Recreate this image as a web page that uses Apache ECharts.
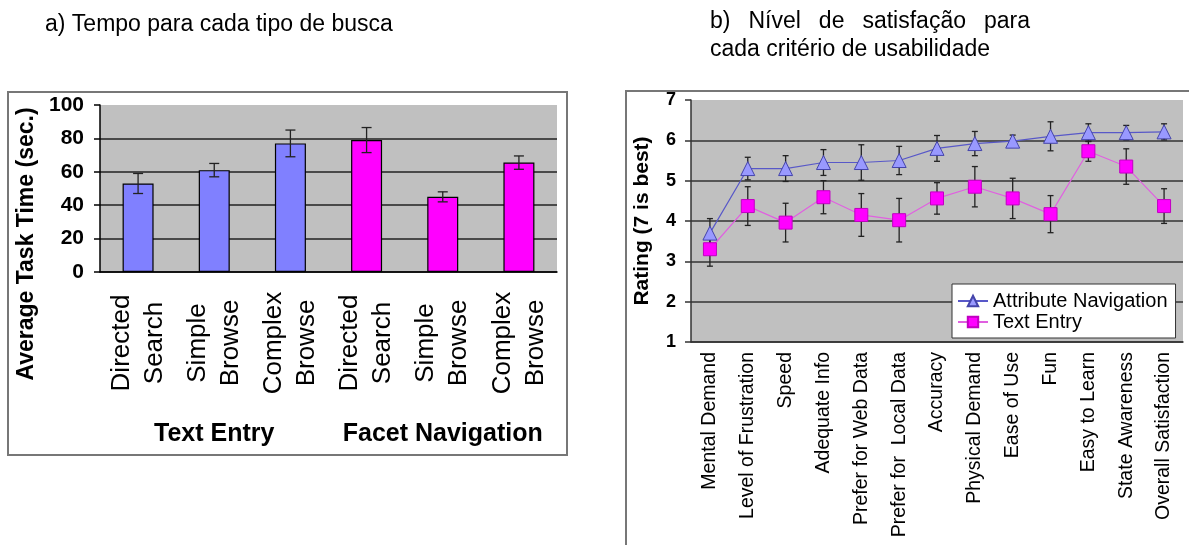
<!DOCTYPE html>
<html>
<head>
<meta charset="utf-8">
<script src="https://cdn.jsdelivr.net/npm/echarts@6/dist/echarts.min.js"></script>
<style>
  html, body { margin: 0; padding: 0; background: #fff; }
  #chart { width: 1189px; height: 545px; }
</style>
</head>
<body>
<div id="chart"></div>
<script>
// a) tempo por tipo de busca
var taskCategories = ['Directed\nSearch', 'Simple\nBrowse', 'Complex\nBrowse', 'Directed\nSearch', 'Simple\nBrowse', 'Complex\nBrowse']
var taskGroups = ['Text Entry', 'Facet Navigation']
var taskTimes = [53, 61, 77, 79, 45, 65.5]
var taskErrors = [6, 4, 8, 7.5, 3, 4]

// b) satisfação por critério
var criteria = ['Mental Demand', 'Level of Frustration', 'Speed', 'Adequate Info', 'Prefer for Web Data', 'Prefer for  Local Data', 'Accuracy', 'Physical Demand', 'Ease of Use', 'Fun', 'Easy to Learn', 'State Awareness', 'Overall Satisfaction']
var attrNav = [3.7, 5.3, 5.3, 5.45, 5.45, 5.5, 5.8, 5.92, 5.98, 6.1, 6.19, 6.19, 6.21]
var attrNavErr = [0.36, 0.28, 0.32, 0.32, 0.44, 0.35, 0.32, 0.3, 0.15, 0.36, 0.22, 0.18, 0.2]
var textEntry = [3.3, 4.37, 3.96, 4.59, 4.15, 4.02, 4.56, 4.85, 4.56, 4.17, 5.73, 5.35, 4.37]
var textEntryErr = [0.42, 0.48, 0.48, 0.41, 0.53, 0.54, 0.39, 0.5, 0.5, 0.46, 0.25, 0.44, 0.43]

var FONT = '"Liberation Sans", Arial, sans-serif'
var BLUE = '#8080FF'
var MAGENTA = '#FF00FF'

function errData (means, errs) {
  return means.map(function (m, i) { return [i, m - errs[i], m + errs[i]] })
}

function errorBar (half) {
  return function (params, api) {
    var x = api.value(0)
    var lo = api.coord([x, api.value(1)])
    var hi = api.coord([x, api.value(2)])
    var style = { stroke: '#222', lineWidth: 1.3 }
    return {
      type: 'group',
      children: [
        { type: 'line', shape: { x1: lo[0], y1: lo[1], x2: hi[0], y2: hi[1] }, style: style },
        { type: 'line', shape: { x1: lo[0] - half, y1: lo[1], x2: lo[0] + half, y2: lo[1] }, style: style },
        { type: 'line', shape: { x1: hi[0] - half, y1: hi[1], x2: hi[0] + half, y2: hi[1] }, style: style }
      ]
    }
  }
}

function label (text, x, y, size, weight, rotation, align) {
  return {
    type: 'text',
    x: x,
    y: y,
    rotation: rotation || 0,
    z: 10,
    style: {
      text: text,
      fontFamily: FONT,
      fontSize: size,
      fontWeight: weight || 'normal',
      fill: '#000',
      align: align || 'left',
      verticalAlign: 'middle'
    }
  }
}

// linha justificada (como no texto original do título b)
function justified (words, x0, x1, y, size) {
  var ctx = document.createElement('canvas').getContext('2d')
  ctx.font = size + 'px ' + FONT
  var widths = words.map(function (w) { return ctx.measureText(w).width })
  var total = widths.reduce(function (a, b) { return a + b }, 0)
  var gap = (x1 - x0 - total) / (words.length - 1)
  var x = x0
  return words.map(function (w, i) {
    var el = label(w, x, y, size)
    x += widths[i] + gap
    return el
  })
}

var chart = echarts.init(document.getElementById('chart'))

chart.setOption({
  backgroundColor: '#fff',
  animation: false,
  textStyle: { fontFamily: FONT },
  graphic: [
    // moldura dos dois gráficos
    { type: 'rect', z: -10, shape: { x: 8, y: 92, width: 559, height: 363 }, style: { fill: '#fff', stroke: '#777', lineWidth: 2 } },
    { type: 'rect', z: -10, shape: { x: 626, y: 91, width: 620, height: 520 }, style: { fill: '#fff', stroke: '#777', lineWidth: 2 } },
    label('a) Tempo para cada tipo de busca', 45, 25, 23),
    label('cada critério de usabilidade', 710, 50, 23),
    label('Average Task Time (sec.)', 27, 244, 23, 'bold', Math.PI / 2, 'center'),
    label('Rating (7 is best)', 642, 221, 21, 'bold', Math.PI / 2, 'center')
  ].concat(justified(['b)', 'Nível', 'de', 'satisfação', 'para'], 710, 1030, 22, 23)),
  grid: [
    { left: 100, top: 105, width: 457, height: 167, show: true, backgroundColor: '#C0C0C0', borderWidth: 0 },
    { left: 691, top: 100, width: 492, height: 242, show: true, backgroundColor: '#C0C0C0', borderWidth: 0 }
  ],
  legend: {
    data: ['Attribute Navigation', 'Text Entry'],
    orient: 'vertical',
    left: 952,
    top: 284,
    backgroundColor: '#fff',
    borderColor: '#333',
    borderWidth: 1,
    padding: [7, 8, 6, 5],
    itemGap: 1,
    itemWidth: 30,
    itemHeight: 13,
    textStyle: { fontSize: 20, color: '#000', fontFamily: FONT }
  },
  xAxis: [
    {
      gridIndex: 0,
      type: 'category',
      data: taskCategories,
      axisLine: { lineStyle: { color: '#000', width: 1.5 } },
      axisTick: { length: 126, lineStyle: { color: '#444', width: 1.5 } },
      axisLabel: {
        rotate: 90,
        align: 'center',
        verticalAlign: 'middle',
        margin: 71,
        fontSize: 26,
        lineHeight: 33,
        color: '#000',
        interval: 0
      }
    },
    {
      gridIndex: 0,
      type: 'category',
      position: 'bottom',
      data: taskGroups,
      axisLine: { show: false },
      axisTick: { length: 170, lineStyle: { color: '#444', width: 1.5 } },
      axisLabel: {
        margin: 162,
        verticalAlign: 'middle',
        fontSize: 25,
        fontWeight: 'bold',
        color: '#000',
        interval: 0
      }
    },
    {
      gridIndex: 1,
      type: 'category',
      data: criteria,
      axisLine: { lineStyle: { color: '#333', width: 1.5 } },
      axisTick: { length: 5, lineStyle: { color: '#333', width: 1.5 } },
      axisLabel: {
        rotate: 90,
        margin: 10,
        fontSize: 19.5,
        color: '#000',
        interval: 0
      }
    }
  ],
  yAxis: [
    {
      gridIndex: 0,
      type: 'value',
      min: 0,
      max: 100,
      interval: 20,
      axisLine: { show: true, lineStyle: { color: '#000', width: 1.5 } },
      axisTick: { show: true, length: 6, lineStyle: { color: '#000', width: 1.5 } },
      axisLabel: { fontSize: 21, fontWeight: 'bold', color: '#000', margin: 16 },
      splitLine: { showMaxLine: false, lineStyle: { color: '#222', width: 1.5 } }
    },
    {
      gridIndex: 1,
      type: 'value',
      min: 1,
      max: 7,
      interval: 1,
      axisLine: { show: true, lineStyle: { color: '#333', width: 1.5 } },
      axisTick: { show: true, length: 6, lineStyle: { color: '#333', width: 1.5 } },
      axisLabel: { fontSize: 18, fontWeight: 'bold', color: '#000', margin: 15 },
      splitLine: { showMaxLine: false, lineStyle: { color: '#333', width: 1.5 } }
    }
  ],
  series: [
    {
      type: 'bar',
      xAxisIndex: 0,
      yAxisIndex: 0,
      barWidth: 31,
      z: 2,
      data: taskTimes.map(function (v, i) {
        return { value: v, itemStyle: { color: i < 3 ? BLUE : MAGENTA, borderColor: '#000', borderWidth: 1.2 } }
      })
    },
    {
      type: 'custom',
      xAxisIndex: 0,
      yAxisIndex: 0,
      z: 3,
      renderItem: errorBar(5),
      encode: { x: 0, y: [1, 2] },
      data: errData(taskTimes, taskErrors)
    },
    {
      type: 'custom',
      xAxisIndex: 2,
      yAxisIndex: 1,
      z: 2,
      renderItem: errorBar(3),
      encode: { x: 0, y: [1, 2] },
      data: errData(attrNav, attrNavErr)
    },
    {
      type: 'custom',
      xAxisIndex: 2,
      yAxisIndex: 1,
      z: 2,
      renderItem: errorBar(3),
      encode: { x: 0, y: [1, 2] },
      data: errData(textEntry, textEntryErr)
    },
    {
      name: 'Attribute Navigation',
      type: 'line',
      xAxisIndex: 2,
      yAxisIndex: 1,
      z: 4,
      symbol: 'triangle',
      symbolSize: 14,
      lineStyle: { color: '#5858C8', width: 1.2 },
      itemStyle: { color: '#9999FF', borderColor: '#4444AA', borderWidth: 1 },
      data: attrNav
    },
    {
      name: 'Text Entry',
      type: 'line',
      xAxisIndex: 2,
      yAxisIndex: 1,
      z: 4,
      symbol: 'rect',
      symbolSize: 13,
      lineStyle: { color: '#E060E0', width: 1.2 },
      itemStyle: { color: MAGENTA, borderColor: '#C000C0', borderWidth: 1 },
      data: textEntry
    }
  ]
})
</script>
</body>
</html>
